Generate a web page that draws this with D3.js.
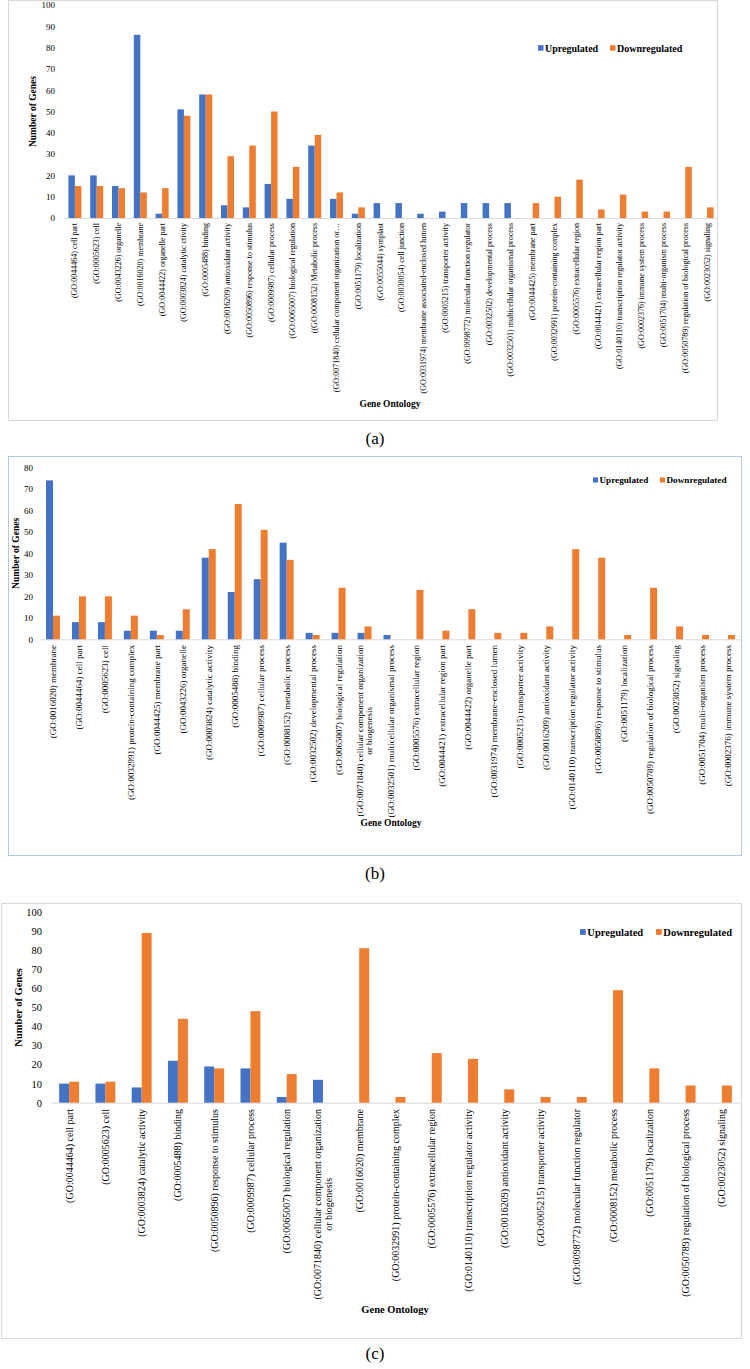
<!DOCTYPE html>
<html>
<head>
<meta charset="utf-8">
<script src="https://cdn.jsdelivr.net/npm/d3@7"></script>
<style>
  body { margin: 0; background: #fff; }
  svg { display: block; }
  text { font-family: "Liberation Serif", "Times New Roman", serif; fill: #000; }
</style>
</head>
<body>
<div id="chart"></div>
<script>
// ---- data (a) ----
const catsA = [
  "(GO:0044464) cell part", "(GO:0005623) cell", "(GO:0043226) organelle",
  "(GO:0016020) membrane", "(GO:0044422) organelle part", "(GO:0003824) catalytic ctivity",
  "(GO:0005488) binding", "(GO:0016209) antioxidant activity", "(GO:0050896) response to stimulus",
  "(GO:0009987) cellular process", "(GO:0065007) biological regulation", "((GO:0008152) Metabolic process",
  "(GO:0071840) cellular component organization or…", "(GO:0051179) localization", "(GO:0055044) symplast",
  "(GO:0030054) cell junction", "(GO:0031974) membrane associated-enclosed lumen", "(GO:0005215) transporter activity",
  "(GO:0098772) molecular function regulator", "(GO:0032502) developmental process", "(GO:0032501) multicellular organismal process",
  "(GO:0044425) membrane part", "(GO:0032991) protein-containing complex", "(GO:0005576) extracellular region",
  "(GO:0044421) extracellular region part", "(GO:0140110) transcription regulator activity", "(GO:0002376) immune system process",
  "(GO:0051704) multi-organism process", "(GO:0050789) regulation of biological process", "(GO:0023052) signaling"
]
const upA   = [20, 20, 15, 86, 2, 51, 58, 6, 5, 16, 9, 34, 9, 2, 7, 7, 2, 3, 7, 7, 7, 0, 0, 0, 0, 0, 0, 0, 0, 0]
const downA = [15, 15, 14, 12, 14, 48, 58, 29, 34, 50, 24, 39, 12, 5, 0, 0, 0, 0, 0, 0, 0, 7, 10, 18, 4, 11, 3, 3, 24, 5]
const ticksA = [0, 10, 20, 30, 40, 50, 60, 70, 80, 90, 100]

// ---- data (b) ----
const catsB = [
  "(GO:0016020) membrane", "(GO:0044464) cell part", "(GO:0005623) cell",
  "(GO:0032991) protein-containing complex", "(GO:0044425) membrane part", "(GO:0043226) organelle",
  "(GO:0003824) catalytic activity", "(GO:0005488) binding", "(GO:0009987) cellular process",
  "(GO:0008152) metabolic process", "(GO:0032502) developmental process", "(GO:0065007) biological regulation",
  "(GO:0071840) cellular component organization\nor biogenesis", "(GO:0032501) multicellular organismal process",
  "(GO:0005576) extracellular region", "(GO:0044421) extracellular region part", "(GO:0044422) organelle part",
  "(GO:0031974) membrane-enclosed lumen", "(GO:0005215) transporter activity", "(GO:0016209) antioxidant activity",
  "(GO:0140110) transcription regulator activity", "(GO:0050896) response to stimulus", "(GO:0051179) localization",
  "(GO:0050789) regulation of biological process", "(GO:0023052) signaling", "(GO:0051704) multi-organism process",
  "(GO:0002376) immune system process"
]
const upB   = [74, 8, 8, 4, 4, 4, 38, 22, 28, 45, 3, 3, 3, 2, 0, 0, 0, 0, 0, 0, 0, 0, 0, 0, 0, 0, 0]
const downB = [11, 20, 20, 11, 2, 14, 42, 63, 51, 37, 2, 24, 6, 0, 23, 4, 14, 3, 3, 6, 42, 38, 2, 24, 6, 2, 2]
const ticksB = [0, 10, 20, 30, 40, 50, 60, 70, 80]

// ---- data (c) ----
const catsC = [
  "(GO:0044464) cell part", "(GO:0005623) cell", "(GO:0003824) catalytic activity",
  "(GO:0005488) binding", "(GO:0050896) response to stimulus", "(GO:0009987) cellular process",
  "(GO:0065007) biological regulation", "(GO:0071840) cellular component organization\nor biogenesis",
  "(GO:0016020) membrane", "(GO:0032991) protein-containing complex", "(GO:0005576) extracellular region",
  "(GO:0140110) transcription regulator activity", "(GO:0016209) antioxidant activity", "(GO:0005215) transporter activity",
  "(GO:0098772) molecular function regulator", "(GO:0008152) metabolic process", "(GO:0051179) localization",
  "(GO:0050789) regulation of biological process", "(GO:0023052) signaling"
]
const upC   = [10, 10, 8, 22, 19, 18, 3, 12, 0, 0, 0, 0, 0, 0, 0, 0, 0, 0, 0]
const downC = [11, 11, 89, 44, 18, 48, 15, 0, 81, 3, 26, 23, 7, 3, 3, 59, 18, 9, 9]
const ticksC = [0, 10, 20, 30, 40, 50, 60, 70, 80, 90, 100]

const seriesNames = ['Upregulated', 'Downregulated']
const colors = ['#4472C4', '#ED7D31']

// ---- drawing ----
const svg = d3.select('#chart')
  .append('svg')
  .attr('width', 750)
  .attr('height', 1369)

function drawPanel(p) {
  const g = svg.append('g')

  // frame
  g.append('rect')
    .attr('x', p.box[0] + 0.5).attr('y', p.box[1] + 0.5)
    .attr('width', p.box[2]).attr('height', p.box[3])
    .attr('fill', 'none').attr('stroke', p.boxColor).attr('stroke-width', 1)

  const rows = p.cats.map((c, i) => ({ cat: c, up: p.up[i], down: p.down[i] }))

  const xScale = d3.scaleBand().domain(p.cats).range([p.x0, p.x1])
  const subScale = d3.scaleBand().domain([0, 1]).range([0, xScale.bandwidth()]).paddingOuter(p.outer)
  const yScale = d3.scaleLinear().domain([0, p.yMax]).range([p.y0, p.yTop])

  // y axis (labels only)
  const yAxis = g.append('g')
    .attr('transform', `translate(${p.x0},0)`)
    .call(d3.axisLeft(yScale).tickValues(p.ticks).tickSize(0).tickPadding(p.tickPad))
  yAxis.select('.domain').remove()
  yAxis.selectAll('text')
    .attr('font-size', p.tickFont)
    .attr('fill', '#404040')

  // x axis baseline
  const xAxis = g.append('g')
    .attr('transform', `translate(0,${p.y0})`)
    .call(d3.axisBottom(xScale).tickSize(0).tickFormat(''))
  xAxis.select('.domain').attr('stroke', '#d9d9d9')

  // bars
  const groups = g.append('g')
    .selectAll('g')
    .data(rows)
    .join('g')
    .attr('transform', d => `translate(${xScale(d.cat)},0)`)

  groups.selectAll('rect')
    .data(d => [d.up, d.down].map((v, k) => ({ v, k })))
    .join('rect')
    .attr('x', d => subScale(d.k))
    .attr('y', d => yScale(d.v))
    .attr('width', subScale.bandwidth())
    .attr('height', d => yScale(0) - yScale(d.v))
    .attr('fill', d => colors[d.k])
    .attr('display', d => d.v > 0 ? null : 'none')

  // category labels (rotated)
  rows.forEach(d => {
    const cx = xScale(d.cat) + xScale.bandwidth() / 2
    const lines = d.cat.split('\n')
    const t = g.append('g').attr('transform', `translate(${cx},${p.labelTop}) rotate(-90)`)
    const off = (lines.length - 1) * p.labelFont * 0.55
    const first = t.append('text')
      .attr('x', 0).attr('y', -off)
      .attr('text-anchor', 'end')
      .attr('dominant-baseline', 'central')
      .attr('font-size', p.labelFont)
      .attr('fill', '#404040')
      .text(lines[0])
    if (lines.length > 1) {
      const len = first.node().getComputedTextLength()
      t.append('text')
        .attr('x', -len / 2).attr('y', off)
        .attr('text-anchor', 'middle')
        .attr('dominant-baseline', 'central')
        .attr('font-size', p.labelFont)
        .attr('fill', '#404040')
        .text(lines[1])
    }
  })

  // axis titles
  g.append('text')
    .attr('transform', `translate(${p.yTitleX},${(p.y0 + p.yTop) / 2}) rotate(-90)`)
    .attr('text-anchor', 'middle')
    .attr('dominant-baseline', 'central')
    .attr('font-weight', 'bold')
    .attr('font-size', p.titleFont)
    .text('Number of Genes')

  g.append('text')
    .attr('x', p.xTitleX).attr('y', p.xTitleY)
    .attr('text-anchor', 'middle')
    .attr('dominant-baseline', 'central')
    .attr('font-weight', 'bold')
    .attr('font-size', p.titleFont)
    .text('Gene Ontology')

  // legend
  const leg = g.append('g')
    .selectAll('g')
    .data(seriesNames)
    .join('g')
    .attr('transform', (d, i) => `translate(${p.legendX[i]},${p.legendY})`)
  leg.append('rect')
    .attr('x', 0).attr('y', -p.legendFont * 0.28)
    .attr('width', p.legendFont * 0.55).attr('height', p.legendFont * 0.55)
    .attr('fill', (d, i) => colors[i])
  leg.append('text')
    .attr('x', p.legendFont * 0.7).attr('y', 0)
    .attr('dominant-baseline', 'central')
    .attr('font-weight', 'bold')
    .attr('font-size', p.legendFont)
    .attr('fill', '#262626')
    .text(d => d)

  // panel letter
  svg.append('text')
    .attr('x', 375).attr('y', p.letterY)
    .attr('text-anchor', 'middle')
    .attr('dominant-baseline', 'central')
    .attr('font-size', 17)
    .text(p.letter)
}

drawPanel({
  cats: catsA, up: upA, down: downA, ticks: ticksA, yMax: 100,
  box: [8, 0, 709, 420], boxColor: '#d9d9d9',
  x0: 64, x1: 718, y0: 218, yTop: 5, outer: 0.68,
  tickFont: 9, tickPad: 9, labelFont: 8, labelTop: 223,
  titleFont: 9.5, yTitleX: 33, xTitleX: 390, xTitleY: 404,
  legendX: [538, 610], legendY: 48, legendFont: 10,
  letter: '(a)', letterY: 438
})

drawPanel({
  cats: catsB, up: upB, down: downB, ticks: ticksB, yMax: 80,
  box: [8, 456, 733, 399], boxColor: '#b4c7e7',
  x0: 40, x1: 741, y0: 639.3, yTop: 467.5, outer: 0.86,
  tickFont: 9, tickPad: 7, labelFont: 9, labelTop: 645,
  titleFont: 9.5, yTitleX: 16, xTitleX: 391, xTitleY: 823,
  legendX: [593, 660], legendY: 480, legendFont: 9.2,
  letter: '(b)', letterY: 873
})

drawPanel({
  cats: catsC, up: upC, down: downC, ticks: ticksC, yMax: 100,
  box: [1, 903, 740, 435], boxColor: '#d9d9d9',
  x0: 51, x1: 740, y0: 1102.7, yTop: 912, outer: 0.82,
  tickFont: 10.5, tickPad: 9, labelFont: 10, labelTop: 1109,
  titleFont: 10.5, yTitleX: 18, xTitleX: 395, xTitleY: 1309,
  legendX: [580, 656], legendY: 932, legendFont: 10.5,
  letter: '(c)', letterY: 1353
})
</script>
</body>
</html>
